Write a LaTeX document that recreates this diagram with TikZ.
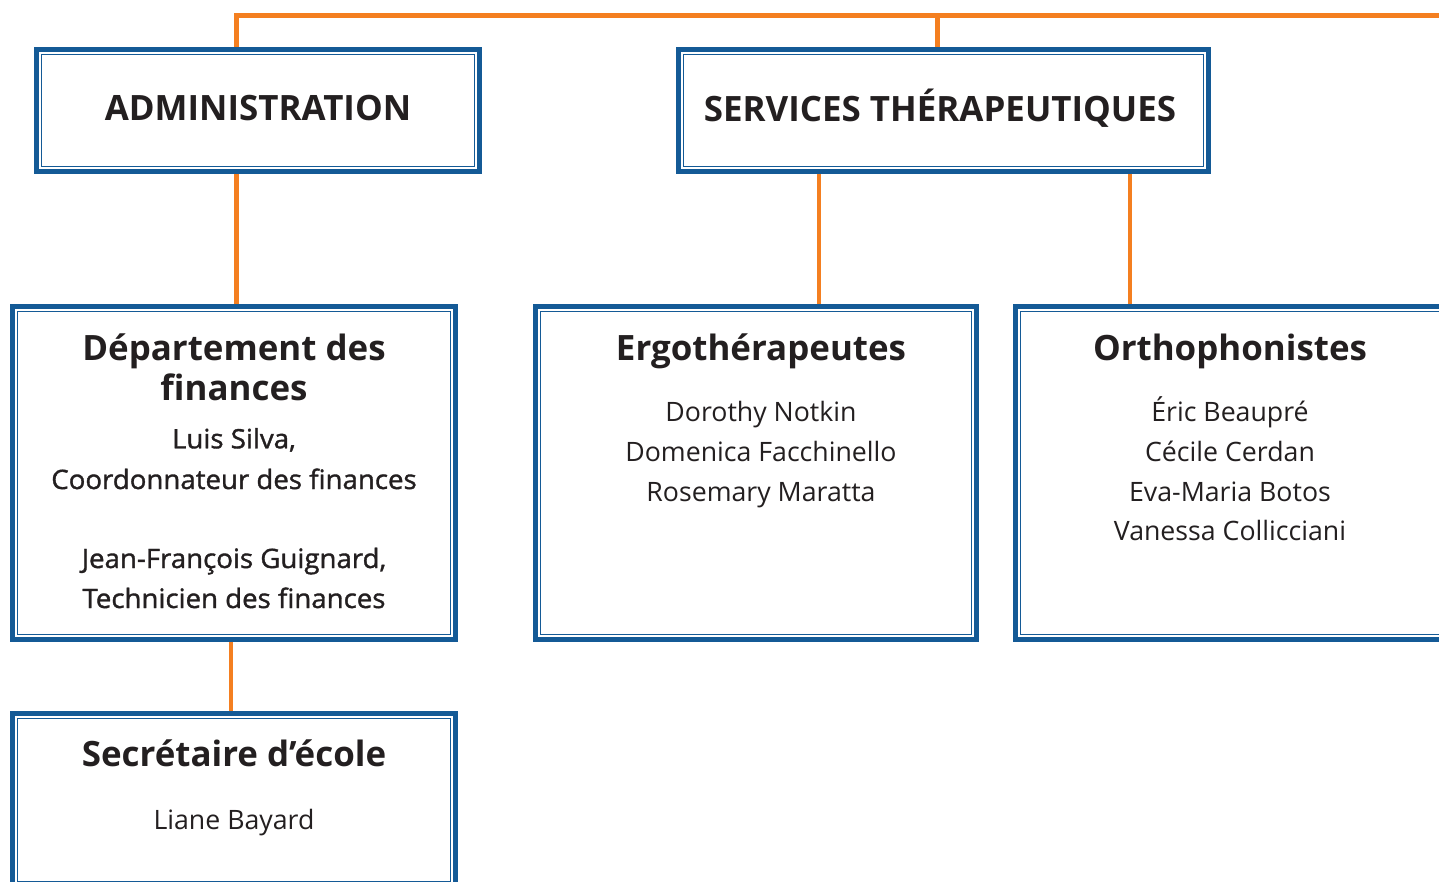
\documentclass[tikz,border=0pt]{standalone}
\usepackage{fontspec}
\setmainfont{Open Sans}
\newfontfamily\semib[FakeBold=1.3,FakeStretch=1.035]{Open Sans}
\definecolor{bblue}{HTML}{145A96}
\definecolor{borange}{HTML}{F47F20}
\definecolor{ink}{HTML}{231F20}
\begin{document}
\begin{tikzpicture}[x=1pt,y=-1pt,
  orgbox/.style={draw=bblue, line width=5.3pt, fill=white, inner sep=0pt, minimum width=#1},
  conn/.style={draw=borange, line width=4.5pt},
  innerline/.style={draw=bblue, line width=1.6pt},
  ttl/.style={anchor=base, text=ink, font=\bfseries\fontsize{34.9}{40}\selectfont, inner sep=0pt},
  hdr/.style={anchor=base, text=ink, font=\bfseries\fontsize{34.9}{40}\selectfont, inner sep=0pt},
  nm/.style={anchor=base, text=ink, font=\fontsize{26.7}{40}\selectfont, inner sep=0pt},
  snm/.style={anchor=base, text=ink, font=\semib\fontsize{26.7}{40}\selectfont, inner sep=0pt}]
\useasboundingbox (0,0) rectangle (1439,882);
\fill[white] (0,0) rectangle (1439,882);

\coordinate (topR) at (1441,15.5);

% boxes
\node[orgbox=443, minimum height=122] (admin) at (258,110.5) {};
\node[orgbox=530, minimum height=122] (serv) at (943.5,110.5) {};
\node[orgbox=443, minimum height=333] (dept) at (234,473) {};
\node[orgbox=441, minimum height=333] (ergo) at (756,473) {};
\node[orgbox=430, minimum height=333] (ortho) at (1230.5,473) {};
\node[orgbox=443, minimum height=173] (secr) at (234,800) {};

\foreach \b in {admin,serv,dept,ergo,ortho,secr}{
  \draw[innerline] ([shift={(7.5,7.5)}]\b.north west) rectangle ([shift={(-7.5,-7.5)}]\b.south east);
}

% connectors
\draw[conn] ([xshift=-21.5]admin.north) |- (topR);
\draw[conn] ([xshift=-6]serv.north) -- ([xshift=-6]serv.north |- topR);
\draw[conn] ([xshift=-21.5]admin.south) -- ([xshift=2.5]dept.north);
\draw[conn] ([xshift=-3]dept.south) -- ([xshift=-3]secr.north);
\draw[conn] ([xshift=-124.5]serv.south) -- ([xshift=63]ergo.north);
\draw[conn] ([xshift=186.5]serv.south) -- ([xshift=-100.5]ortho.north);

% texts
\node[hdr] (tadmin) at (258,121) {ADMINISTRATION};
\node[hdr] (tserv) at (940,122) {SERVICES THÉRAPEUTIQUES};

\node[ttl] (tdept1) at (234,360.5) {Département des};
\node[ttl] (tdept2) at (234,400) {finances};
\node[snm] (d1) at (234,448.3) {Luis Silva,};
\node[snm] (d2) at (234,489) {Coordonnateur des finances};
\node[snm] (d3) at (234,568) {Jean-François Guignard,};
\node[snm] (d4) at (234,608) {Technicien des finances};

\node[ttl] (tergo) at (761,360.5) {Ergothérapeutes};
\node[nm] (e1) at (761,421.5) {Dorothy Notkin};
\node[nm] (e2) at (761,461.5) {Domenica Facchinello};
\node[nm] (e3) at (761,501.5) {Rosemary Maratta};

\node[ttl] (tortho) at (1230,360.5) {Orthophonistes};
\node[nm] (o1) at (1230,421.7) {Éric Beaupré};
\node[nm] (o2) at (1230,461.7) {Cécile Cerdan};
\node[nm] (o3) at (1230,501.7) {Eva-Maria Botos};
\node[nm] (o4) at (1230,540.7) {Vanessa Collicciani};

\node[ttl] (tsecr) at (234,766) {Secrétaire d’école};
\node[nm] (s1) at (234,829) {Liane Bayard};
\end{tikzpicture}
\end{document}
